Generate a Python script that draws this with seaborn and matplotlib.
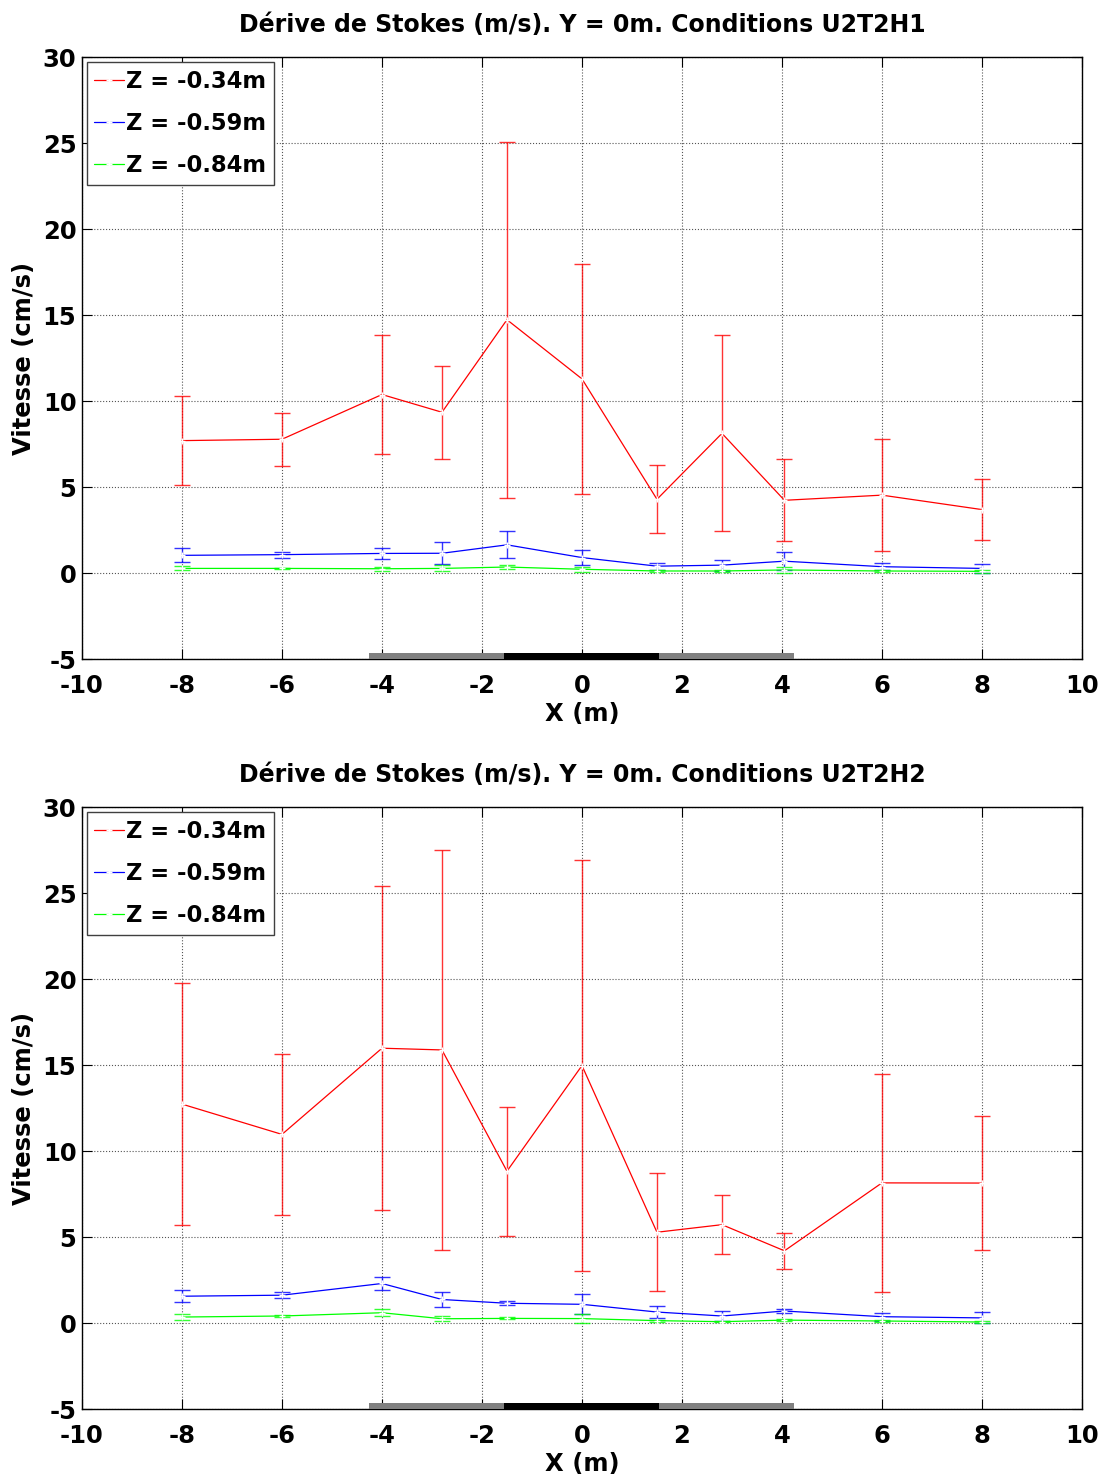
import numpy as np
import pandas as pd
import matplotlib
matplotlib.use("Agg")
import matplotlib.pyplot as plt
import seaborn as sns

# positions along the flume (m)
x_pos = [-8, -6, -4, -2.8, -1.5, 0, 1.5, 2.8, 4.05, 6, 8]
depths = ["Z = -0.34m", "Z = -0.59m", "Z = -0.84m"]

# --- U2T2H1 (cm/s) ---
h1_red = [7.7, 7.78, 10.38, 9.35, 14.73, 11.29, 4.29, 8.12, 4.23, 4.53, 3.69]
h1_red_err = [2.58, 1.53, 3.47, 2.7, 10.36, 6.7, 1.98, 5.7, 2.38, 3.24, 1.77]
h1_blue = [1.03, 1.07, 1.14, 1.15, 1.64, 0.9, 0.4, 0.46, 0.69, 0.37, 0.27]
h1_blue_err = [0.41, 0.18, 0.34, 0.65, 0.79, 0.46, 0.2, 0.32, 0.52, 0.21, 0.27]
h1_green = [0.27, 0.27, 0.25, 0.27, 0.35, 0.22, 0.12, 0.12, 0.18, 0.12, 0.1]
h1_green_err = [0.12, 0.05, 0.12, 0.17, 0.14, 0.15, 0.06, 0.05, 0.15, 0.05, 0.1]

# --- U2T2H2 (cm/s) ---
h2_red = [12.73, 10.97, 15.98, 15.88, 8.83, 14.97, 5.28, 5.72, 4.2, 8.15, 8.14]
h2_red_err = [7.04, 4.68, 9.42, 11.61, 3.75, 11.94, 3.43, 1.72, 1.05, 6.34, 3.87]
h2_blue = [1.56, 1.62, 2.3, 1.37, 1.15, 1.09, 0.64, 0.41, 0.7, 0.37, 0.3]
h2_blue_err = [0.36, 0.16, 0.38, 0.42, 0.12, 0.58, 0.37, 0.27, 0.1, 0.23, 0.32]
h2_green = [0.35, 0.41, 0.6, 0.25, 0.27, 0.26, 0.14, 0.08, 0.17, 0.12, 0.06]
h2_green_err = [0.18, 0.05, 0.19, 0.15, 0.06, 0.26, 0.05, 0.04, 0.05, 0.05, 0.05]

# structure extents drawn at the bottom of each panel
gray_span = [-4.25, 4.25]
black_span = [-1.55, 1.55]

colors = ["#ff0000", "#0000ff", "#00ff00"]

sns.set_theme(style="ticks")
plt.rcParams["font.family"] = ["DejaVu Sans"]
plt.rcParams["font.weight"] = "bold"
plt.rcParams["axes.unicode_minus"] = False
plt.rcParams["text.color"] = "black"
plt.rcParams["axes.labelcolor"] = "black"

fig = plt.figure(figsize=(11.02, 14.79), dpi=100)
ax1 = fig.add_axes([0.0744, 0.5544, 0.9074, 0.407])
ax2 = fig.add_axes([0.0744, 0.0473, 0.9074, 0.407])

panels = [
    (ax1, "U2T2H1", [h1_red, h1_blue, h1_green], [h1_red_err, h1_blue_err, h1_green_err]),
    (ax2, "U2T2H2", [h2_red, h2_blue, h2_green], [h2_red_err, h2_blue_err, h2_green_err]),
]

for ax, cond, means, errs in panels:
    rows = []
    for name, m in zip(depths, means):
        for xv, yv in zip(x_pos, m):
            rows.append({"X": xv, "V": yv, "Z": name})
    df = pd.DataFrame(rows)

    for name, m, e, c in zip(depths, means, errs, colors):
        ax.errorbar(x_pos, m, yerr=e, fmt="none", ecolor=c, elinewidth=1.0,
                    capsize=6, capthick=1.0, alpha=0.8, zorder=3)

    sns.lineplot(data=df, x="X", y="V", hue="Z", palette=colors, marker="+",
                 markersize=5, markeredgewidth=1.0, linewidth=0.9, sort=False,
                 estimator=None, ax=ax, zorder=4)

    # structure markers
    ax.fill_between(gray_span, -5, -4.62, color="#808080", lw=0, zorder=5)
    ax.fill_between(black_span, -5, -4.62, color="black", lw=0, zorder=6)

    ax.set_xlim(-10, 10)
    ax.set_ylim(-5, 30)
    ax.set_xticks(np.arange(-10, 11, 2))
    ax.set_yticks(np.arange(-5, 31, 5))
    ax.grid(True, linestyle=":", color="#555555", linewidth=0.8)
    for s in ax.spines.values():
        s.set_visible(True)
        s.set_color("black")
        s.set_linewidth(1.0)
    ax.tick_params(direction="in", length=7, width=0.8, top=True, right=True,
                   labelsize=17.5, colors="black")
    ax.tick_params(axis="x", pad=11)
    ax.tick_params(axis="y", pad=4)
    for lab in ax.get_xticklabels() + ax.get_yticklabels():
        lab.set_fontweight("bold")

    ax.set_xlabel("X (m)", fontsize=17.5, fontweight="bold", labelpad=3)
    ax.set_ylabel("Vitesse (cm/s)", fontsize=17.5, fontweight="bold", labelpad=5)
    ax.set_title(f"Dérive de Stokes (m/s). Y = 0m. Conditions {cond}",
                 fontsize=17, fontweight="bold", pad=18, color="black")

    leg = ax.legend(loc="upper left", fontsize=16.3, frameon=True, fancybox=False,
                    borderaxespad=0.2, handlelength=1.3, handletextpad=0.1,
                    borderpad=0.35, labelspacing=0.85, title=None)
    leg.get_frame().set_edgecolor("#404040")
    leg.get_frame().set_linewidth(1.0)
    leg.get_frame().set_alpha(1.0)
    for t in leg.get_texts():
        t.set_fontweight("bold")
        t.set_color("black")

fig.savefig("out.png", dpi=100)
